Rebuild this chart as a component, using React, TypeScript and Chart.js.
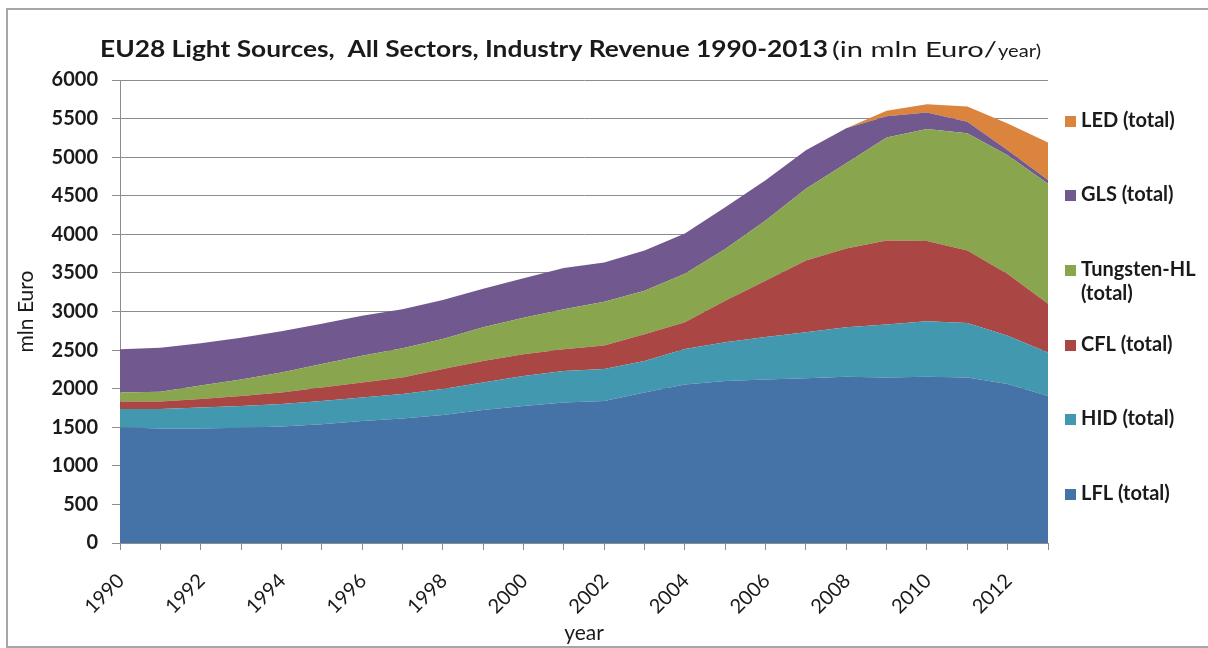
import React, { useEffect, useRef } from 'react';
import { Chart, registerables } from 'chart.js';

Chart.register(...registerables);

const years = ['1990', '1991', '1992', '1993', '1994', '1995', '1996', '1997', '1998', '1999', '2000', '2001',
  '2002', '2003', '2004', '2005', '2006', '2007', '2008', '2009', '2010', '2011', '2012', '2013'];

const lfl = [1500, 1485, 1485, 1495, 1510, 1540, 1580, 1615, 1660, 1725, 1775, 1820, 1840, 1950, 2055, 2100, 2120, 2135, 2155, 2145, 2155, 2145, 2060, 1905];
const hid = [235, 250, 270, 280, 290, 300, 305, 315, 335, 355, 390, 410, 415, 410, 460, 500, 550, 595, 640, 685, 720, 705, 625, 565];
const cfl = [100, 100, 110, 130, 150, 175, 195, 215, 260, 280, 280, 280, 305, 345, 345, 540, 730, 930, 1020, 1090, 1040, 940, 800, 630];
const tungstenHL = [115, 125, 175, 215, 260, 305, 345, 380, 390, 435, 475, 520, 565, 565, 630, 670, 780, 930, 1105, 1335, 1450, 1520, 1540, 1555];
const gls = [560, 570, 550, 540, 535, 520, 520, 505, 505, 500, 510, 535, 510, 520, 520, 540, 520, 500, 455, 275, 215, 150, 65, 50];
const led = [0, 0, 0, 0, 0, 0, 0, 0, 0, 0, 0, 0, 0, 0, 0, 0, 0, 0, 0, 70, 105, 195, 345, 485];

const seriesNames = ['LFL (total)', 'HID (total)', 'CFL (total)', 'Tungsten-HL (total)', 'GLS (total)', 'LED (total)'];
const seriesColors = ['#4572A7', '#4198AF', '#AA4643', '#89A54E', '#71588F', '#DB843D'];

const titleMain = 'EU28 Light Sources,  All Sectors, Industry Revenue 1990-2013';
const titleUnit = '(in mln Euro/';
const titleUnitSmall = 'year)';
const xAxisTitle = 'year';
const yAxisTitle = 'mln Euro';

// legend rows, top to bottom: [series index, text lines]
const legendRows: [number, string[]][] = [
  [5, ['LED (total)']],
  [4, ['GLS (total)']],
  [3, ['Tungsten-HL', '(total)']],
  [2, ['CFL (total)']],
  [1, ['HID (total)']],
  [0, ['LFL (total)']],
];
const legendRowY = [121, 195, 270, 345, 419, 494];

const FONT = 'Lato, "Open Sans", sans-serif';
const GRID = '#8c8c8c';
const TEXT = '#1a1a1a';

function drawFitted(ctx: CanvasRenderingContext2D, text: string, x: number, y: number, font: string, targetW: number) {
  ctx.save();
  ctx.font = font;
  const w = ctx.measureText(text).width;
  const s = targetW > 0 ? targetW / w : 1;
  ctx.translate(x, y);
  ctx.scale(s, 1);
  ctx.fillText(text, 0, 0);
  ctx.restore();
}

const decorPlugin = {
  id: 'decor',
  afterDraw(chart: any) {
    const ctx: CanvasRenderingContext2D = chart.ctx;
    ctx.save();
    ctx.fillStyle = TEXT;
    ctx.textBaseline = 'alphabetic';
    ctx.textAlign = 'left';
    drawFitted(ctx, titleMain, 100, 57, `bold 23px ${FONT}`, 728);
    drawFitted(ctx, titleUnit, 832, 57, `22px ${FONT}`, 165);
    drawFitted(ctx, titleUnitSmall, 998, 57, `17px ${FONT}`, 43);

    ctx.textBaseline = 'middle';
    legendRows.forEach(([idx, lines], r) => {
      const y = legendRowY[r];
      ctx.fillStyle = seriesColors[idx];
      ctx.fillRect(1065, y - 5, 11, 11);
      ctx.fillStyle = TEXT;
      ctx.font = `bold 20px ${FONT}`;
      lines.forEach((ln, k) => {
        ctx.fillText(ln, 1081, y + k * 24);
      });
    });
    ctx.restore();
  },
};

export default function App() {
  const ref = useRef<HTMLCanvasElement | null>(null);

  useEffect(() => {
    if (!ref.current) return;
    const values = [lfl, hid, cfl, tungstenHL, gls, led];
    const chart = new Chart(ref.current, {
      type: 'line',
      data: {
        labels: years,
        datasets: values.map((v, i) => ({
          label: seriesNames[i],
          data: v,
          backgroundColor: seriesColors[i],
          borderColor: seriesColors[i],
          borderWidth: 0,
          pointRadius: 0,
          tension: 0,
          fill: i === 0 ? 'origin' : '-1',
        })),
      },
      options: {
        responsive: false,
        animation: false,
        devicePixelRatio: 1,
        layout: { padding: { left: 14, right: 160, top: 80, bottom: 0 } },
        plugins: {
          legend: { display: false },
          tooltip: { enabled: false },
          title: { display: false },
        },
        scales: {
          x: {
            type: 'category',
            offset: false,
            grid: { display: true, drawOnChartArea: false, drawTicks: true, tickLength: 7, color: GRID },
            border: { display: true, color: GRID },
            ticks: {
              autoSkip: false,
              maxRotation: 45,
              minRotation: 45,
              padding: 19,
              labelOffset: 1,
              color: TEXT,
              font: { family: FONT, size: 20 },
              callback: (_v: any, i: number) => (i % 2 === 0 ? years[i] : ''),
            },
            title: {
              display: true,
              text: xAxisTitle,
              color: TEXT,
              font: { family: FONT, size: 21 },
              padding: { top: 0, bottom: 2 },
            },
            afterFit: (s: any) => { s.height = 105; },
          },
          y: {
            stacked: true,
            min: 0,
            max: 6000,
            grid: { color: GRID, tickLength: 8 },
            border: { display: true, color: GRID },
            ticks: {
              stepSize: 500,
              padding: 14,
              color: TEXT,
              font: { family: FONT, size: 20, weight: 'bold' },
              callback: (v: any) => String(v),
            },
            title: {
              display: true,
              text: yAxisTitle,
              color: TEXT,
              font: { family: FONT, size: 21 },
              padding: { top: 0, bottom: 0 },
            },
            afterFit: (s: any) => { s.width = 106; },
          },
        },
      },
      plugins: [decorPlugin],
    } as any);
    return () => chart.destroy();
  }, []);

  return (
    <div style={{ position: 'fixed', left: 0, top: 0, width: 1208, height: 648, background: '#fff', overflow: 'hidden' }}>
      <div style={{ position: 'absolute', left: 6, top: 8, width: 1230, height: 640, border: '2px solid #a6a6a6', boxSizing: 'border-box' }} />
      <canvas ref={ref} width={1208} height={648} style={{ position: 'absolute', left: 0, top: 0, width: 1208, height: 648 }} />
    </div>
  );
}
